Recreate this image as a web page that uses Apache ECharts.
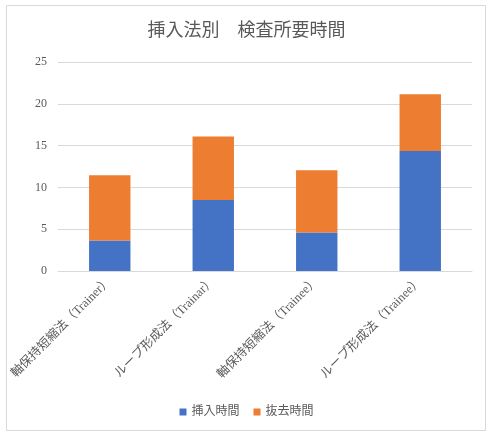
<!DOCTYPE html>
<html>
	<head>
		<meta charset="utf-8">
		<script src="https://cdn.jsdelivr.net/npm/echarts@6/dist/echarts.min.js"></script>
		<title>挿入法別　検査所要時間</title>
		<style>
			html, body { margin: 0; padding: 0; background: #fff; }
		</style>
	</head>
	<body>
		<div id="main" style="width: 493px;height:439px;"></div>
		<script type="text/javascript">
			var categories = ['軸保持短縮法（Trainer）', 'ループ形成法（Trainar）', '軸保持短縮法（Trainee）', 'ループ形成法（Trainee）'];
			var insertTime = [3.65, 8.48, 4.61, 14.35];
			var removeTime = [7.79, 7.62, 7.43, 6.79];
			var seriesNames = ['挿入時間', '抜去時間'];

			var fontFamily = '"Liberation Serif", "Noto Sans CJK JP", serif';
			var textColor = '#595959';

			var myChart = echarts.init(document.getElementById('main'));
			myChart.setOption({
				backgroundColor: '#fff',
				animation: false,
				textStyle: { fontFamily: fontFamily },
				graphic: [{
					type: 'rect',
					shape: { x: 6.5, y: 5.5, width: 479, height: 425 },
					style: { fill: 'none', stroke: '#d9d9d9', lineWidth: 1 },
					silent: true
				}],
				title: {
					text: '挿入法別　検査所要時間',
					left: 'center',
					top: 17,
					textStyle: {
						color: textColor,
						fontSize: 18,
						fontWeight: 'normal',
						fontFamily: fontFamily
					}
				},
				grid: { left: 58, right: 21, top: 62, bottom: 168 },
				legend: {
					bottom: 16,
					left: 'center',
					itemWidth: 7,
					itemHeight: 7,
					itemGap: 14,
					icon: 'rect',
					data: seriesNames,
					textStyle: { color: textColor, fontSize: 12, fontFamily: fontFamily }
				},
				xAxis: {
					type: 'category',
					data: categories,
					axisLine: { lineStyle: { color: '#d9d9d9' } },
					axisTick: { show: false },
					axisLabel: {
						rotate: 45,
						interval: 0,
						color: textColor,
						fontSize: 12.5,
						margin: 8,
						fontFamily: fontFamily
					}
				},
				yAxis: {
					type: 'value',
					min: 0,
					max: 25,
					interval: 5,
					axisLine: { show: false },
					axisTick: { show: false },
					axisLabel: { color: textColor, fontSize: 12, margin: 11, fontFamily: fontFamily },
					splitLine: { lineStyle: { color: '#d9d9d9' } }
				},
				series: [
					{
						name: seriesNames[0],
						type: 'bar',
						stack: 'total',
						barWidth: '40%',
						data: insertTime,
						itemStyle: { color: '#4472c4' }
					},
					{
						name: seriesNames[1],
						type: 'bar',
						stack: 'total',
						barWidth: '40%',
						data: removeTime,
						itemStyle: { color: '#ed7d31' }
					}
				]
			});
		</script>
	</body>
</html>
